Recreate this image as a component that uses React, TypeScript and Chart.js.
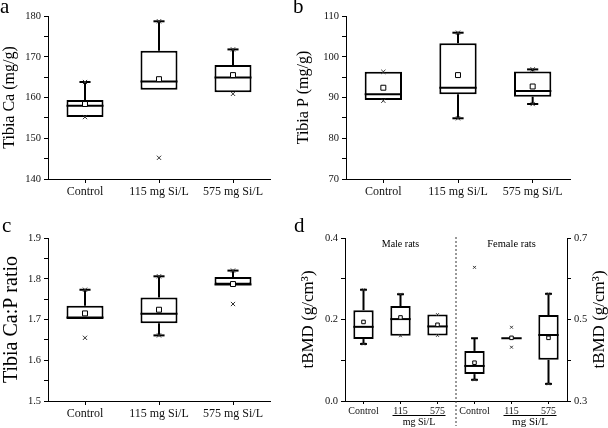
import React, { useEffect, useRef } from 'react';
import { Chart, registerables } from 'chart.js';

Chart.register(...registerables);

const SERIF = '"Liberation Serif", "Times New Roman", Times, serif';
Chart.defaults.font.family = SERIF;

// ---------- Data ----------
const groups = ['Control', '115 mg Si/L', '575 mg Si/L'];

// Panel a: Tibia Ca (mg/g)
const caQ1 = [155.2, 161.9, 161.3];
const caQ3 = [159.4, 171.5, 168.0];
const caMedian = [158.0, 163.9, 164.9];
const caMean = [158.4, 164.5, 165.5];
const caWhiskerLo = [155.2, 161.9, 161.3];
const caWhiskerHi = [163.8, 178.7, 171.8];
const caMin = [155.2, 145.2, 160.9];
const caMax = [163.8, 178.7, 171.8];

// Panel b: Tibia P (mg/g)
const pQ1 = [89.4, 90.8, 90.2];
const pQ3 = [96.3, 103.3, 96.4];
const pMedian = [90.8, 92.4, 91.6];
const pMean = [92.4, 95.5, 92.7];
const pWhiskerLo = [89.4, 84.9, 88.4];
const pWhiskerHi = [96.3, 105.9, 96.9];
const pMin = [89.2, 84.9, 88.4];
const pMax = [96.3, 105.9, 96.9];

// Panel c: Tibia Ca:P ratio
const ratioQ1 = [1.701, 1.691, 1.786];
const ratioQ3 = [1.734, 1.754, 1.804];
const ratioMedian = [1.705, 1.714, 1.786];
const ratioMean = [1.715, 1.724, 1.787];
const ratioWhiskerLo = [1.701, 1.661, 1.786];
const ratioWhiskerHi = [1.773, 1.806, 1.82];
const ratioMin = [1.655, 1.661, 1.738];
const ratioMax = [1.773, 1.806, 1.82];

// Panel d: tBMD (g/cm3)
const bmdLabels = ['Control', '115', '575', 'Control', '115', '575'];
const maleQ1 = [0.152, 0.16, 0.161];
const maleQ3 = [0.223, 0.233, 0.212];
const maleMedian = [0.182, 0.201, 0.183];
const maleMean = [0.194, 0.205, 0.187];
const maleWhiskerLo = [0.14, 0.16, 0.161];
const maleWhiskerHi = [0.273, 0.262, 0.212];
const maleMin = [0.14, 0.16, 0.161];
const maleMax = [0.273, 0.262, 0.212];

const femaleQ1 = [0.366, 0.454, 0.401];
const femaleQ3 = [0.423, 0.454, 0.511];
const femaleMedian = [0.386, 0.454, 0.462];
const femaleMean = [0.394, 0.455, 0.455];
const femaleWhiskerLo = [0.352, 0.454, 0.342];
const femaleWhiskerHi = [0.454, 0.454, 0.563];
const femaleMin = [0.352, 0.432, 0.342];
const femaleMax = [0.628, 0.481, 0.563];

// ---------- helpers ----------
type Arr = (number | null)[];
const padAfter = (a: number[]): Arr => [...a, null, null, null];
const padBefore = (a: number[]): Arr => [null, null, null, ...a];

function boxDatasets(
  q1: Arr, q3: Arr, median: Arr, mean: Arr, wLo: Arr, wHi: Arr, lo: Arr, hi: Arr,
  yAxisID: string, barPct: number, meanR: number, crossR: number, capRatio: number
) {
  return [
    {
      type: 'line', data: mean, yAxisID, showLine: false, order: 1,
      pointStyle: 'rect', pointRadius: meanR, pointBackgroundColor: '#fff',
      pointBorderColor: '#000', pointBorderWidth: 1,
    },
    {
      type: 'line', data: lo, yAxisID, showLine: false, order: 1,
      pointStyle: 'crossRot', pointRadius: crossR, pointBorderColor: '#333', pointBorderWidth: 1,
    },
    {
      type: 'line', data: hi, yAxisID, showLine: false, order: 1,
      pointStyle: 'crossRot', pointRadius: crossR, pointBorderColor: '#333', pointBorderWidth: 1,
    },
    {
      type: 'bar', yAxisID, order: 2,
      data: q1.map((v, i) => (v == null || q3[i] == null ? null : [v, q3[i] as number])),
      backgroundColor: '#fff', borderColor: '#000', borderWidth: 2, borderSkipped: false,
      barPercentage: barPct, categoryPercentage: 1, grouped: false,
      box: { q1, q3, median, wLo, wHi, capRatio },
    },
  ];
}

const boxPlugin = {
  id: 'boxWhiskers',
  afterDatasetDraw(chart: any, args: any) {
    const ds = chart.data.datasets[args.index];
    if (!ds || !ds.box) return;
    const meta = args.meta;
    const ys = meta.yScale;
    const ctx = chart.ctx;
    const { q1, q3, median, wLo, wHi, capRatio } = ds.box;
    ctx.save();
    ctx.strokeStyle = '#000';
    ctx.lineWidth = 2;
    const seg = (x1: number, y1: number, x2: number, y2: number) => {
      ctx.beginPath(); ctx.moveTo(x1, y1); ctx.lineTo(x2, y2); ctx.stroke();
    };
    meta.data.forEach((el: any, i: number) => {
      if (q1[i] == null) return;
      const { x, width } = el.getProps(['x', 'width'], true);
      const half = width / 2;
      const cap = width * capRatio;
      const yMed = ys.getPixelForValue(median[i]);
      seg(x - half, yMed, x + half, yMed);
      const yQ3 = ys.getPixelForValue(q3[i]);
      const yQ1 = ys.getPixelForValue(q1[i]);
      if (wHi[i] > q3[i]) {
        const yH = ys.getPixelForValue(wHi[i]);
        seg(x, yQ3, x, yH);
        seg(x - cap, yH, x + cap, yH);
      }
      if (wLo[i] < q1[i]) {
        const yL = ys.getPixelForValue(wLo[i]);
        seg(x, yQ1, x, yL);
        seg(x - cap, yL, x + cap, yL);
      }
    });
    ctx.restore();
  },
};

function yTicks(min: number, minor: number, major: number, dec: number, size: number) {
  const ratio = Math.round(major / minor);
  const base = Math.round(min / minor);
  return {
    stepSize: minor, autoSkip: false, color: '#111', padding: 3,
    font: { family: SERIF, size },
    callback: (v: any) => {
      const k = Math.round(Number(v) / minor) - base;
      return k % ratio === 0 ? Number(v).toFixed(dec) : '';
    },
  };
}

const axisGrid = (len: number) => ({
  drawOnChartArea: false, drawTicks: true, tickLength: len, color: '#000', offset: false,
});
const axisBorder = { display: true, color: '#000', width: 1 };

type Deco = {
  title: string; titleSize: number; titleX: number;
  letter: string; letterX: number; letterY: number;
};

function decoPlugin(d: Deco, extra?: (chart: any) => void) {
  return {
    id: 'deco',
    afterDraw(chart: any) {
      const ctx = chart.ctx;
      const ca = chart.chartArea;
      ctx.save();
      ctx.fillStyle = '#000';
      ctx.font = `${d.titleSize}px ${SERIF}`;
      ctx.textAlign = 'center';
      ctx.textBaseline = 'middle';
      ctx.translate(d.titleX, (ca.top + ca.bottom) / 2);
      ctx.rotate(-Math.PI / 2);
      ctx.fillText(d.title, 0, 0);
      ctx.restore();
      ctx.save();
      ctx.fillStyle = '#000';
      ctx.font = `21px ${SERIF}`;
      ctx.textAlign = 'left';
      ctx.textBaseline = 'alphabetic';
      ctx.fillText(d.letter, d.letterX, d.letterY);
      ctx.restore();
      if (extra) extra(chart);
    },
  };
}

type Layout = { yWidth: number; xHeight: number; top: number; right: number };

function simpleConfig(
  q1: number[], q3: number[], median: number[], mean: number[], wLo: number[], wHi: number[],
  lo: number[], hi: number[], yMin: number, yMax: number, minor: number, major: number, dec: number,
  lay: Layout, deco: Deco
): any {
  return {
    type: 'bar',
    data: {
      labels: groups,
      datasets: boxDatasets(q1, q3, median, mean, wLo, wHi, lo, hi, 'y', 0.5, 3.5, 3, 0.15),
    },
    options: {
      responsive: false, animation: false, events: [],
      layout: { autoPadding: false, padding: { left: 0, top: lay.top, right: lay.right, bottom: 0 } },
      plugins: { legend: { display: false }, tooltip: { enabled: false } },
      scales: {
        x: {
          type: 'category', offset: true,
          grid: axisGrid(4), border: axisBorder,
          ticks: { color: '#111', padding: 2, maxRotation: 0, autoSkip: false, font: { family: SERIF, size: 12 } },
          afterFit: (s: any) => { s.height = lay.xHeight; },
        },
        y: {
          type: 'linear', min: yMin, max: yMax,
          grid: axisGrid(4), border: axisBorder,
          ticks: yTicks(yMin, minor, major, dec, 10.5),
          afterFit: (s: any) => { s.width = lay.yWidth; },
        },
      },
    },
    plugins: [boxPlugin, decoPlugin(deco)],
  };
}

function bmdConfig(): any {
  const lay = { yWidth: 55, y2Width: 41, xHeight: 27, top: 28 };
  const extra = (chart: any) => {
    const ctx = chart.ctx;
    const xs = chart.scales.x;
    const ca = chart.chartArea;
    ctx.save();
    // divider
    const xm = (xs.getPixelForValue(2) + xs.getPixelForValue(3)) / 2;
    ctx.strokeStyle = '#333';
    ctx.lineWidth = 1;
    ctx.setLineDash([2, 2]);
    ctx.beginPath(); ctx.moveTo(xm, ca.top - 1); ctx.lineTo(xm, 216); ctx.stroke();
    ctx.setLineDash([]);
    ctx.fillStyle = '#000';
    ctx.textAlign = 'center';
    ctx.textBaseline = 'middle';
    ctx.font = `10px ${SERIF}`;
    ctx.fillText('Male rats', xs.getPixelForValue(1), ca.top + 6);
    ctx.font = `10.5px ${SERIF}`;
    ctx.fillText('Female rats', xs.getPixelForValue(4), ca.top + 6);
    // dose underline + unit
    const groupsIdx = [[1, 2, 10], [4, 5, 11]];
    groupsIdx.forEach(([a, b, fs]) => {
      const xa = xs.getPixelForValue(a) - 8;
      const xb = xs.getPixelForValue(b) + 8;
      ctx.strokeStyle = '#000';
      ctx.lineWidth = 1;
      ctx.beginPath(); ctx.moveTo(xa, 205.5); ctx.lineTo(xb, 205.5); ctx.stroke();
      ctx.font = `${fs}px ${SERIF}`;
      ctx.fillText('mg Si/L', (xa + xb) / 2, 212.5);
    });
    // right title
    ctx.font = `17px ${SERIF}`;
    ctx.translate(310, (ca.top + ca.bottom) / 2);
    ctx.rotate(-Math.PI / 2);
    ctx.fillText('tBMD (g/cm\u00B3)', 0, 0);
    ctx.restore();
  };
  return {
    type: 'bar',
    data: {
      labels: bmdLabels,
      datasets: [
        ...boxDatasets(
          padAfter(maleQ1), padAfter(maleQ3), padAfter(maleMedian), padAfter(maleMean),
          padAfter(maleWhiskerLo), padAfter(maleWhiskerHi), padAfter(maleMin), padAfter(maleMax),
          'y', 0.55, 2.5, 2, 0.17
        ),
        ...boxDatasets(
          padBefore(femaleQ1), padBefore(femaleQ3), padBefore(femaleMedian), padBefore(femaleMean),
          padBefore(femaleWhiskerLo), padBefore(femaleWhiskerHi), padBefore(femaleMin), padBefore(femaleMax),
          'y2', 0.55, 2.5, 2, 0.17
        ),
      ],
    },
    options: {
      responsive: false, animation: false, events: [],
      layout: { autoPadding: false, padding: { left: 0, top: lay.top, right: 0, bottom: 0 } },
      plugins: { legend: { display: false }, tooltip: { enabled: false } },
      scales: {
        x: {
          type: 'category', offset: true,
          grid: axisGrid(3), border: axisBorder,
          ticks: { color: '#111', padding: 1, maxRotation: 0, autoSkip: false, font: { family: SERIF, size: 10 } },
          afterFit: (s: any) => { s.height = lay.xHeight; },
        },
        y: {
          type: 'linear', position: 'left', min: 0, max: 0.4,
          grid: axisGrid(4), border: axisBorder,
          ticks: yTicks(0, 0.1, 0.2, 1, 10.5),
          afterFit: (s: any) => { s.width = lay.yWidth; },
        },
        y2: {
          type: 'linear', position: 'right', min: 0.3, max: 0.7,
          grid: axisGrid(4), border: axisBorder,
          ticks: yTicks(0.3, 0.1, 0.2, 1, 10.5),
          afterFit: (s: any) => { s.width = lay.y2Width; },
        },
      },
    },
    plugins: [
      boxPlugin,
      decoPlugin(
        { title: 'tBMD (g/cm\u00B3)', titleSize: 17, titleX: 19, letter: 'd', letterX: 4, letterY: 22 },
        extra
      ),
    ],
  };
}

function ChartPanel(props: { left: number; top: number; width: number; height: number; build: () => any }) {
  const ref = useRef<HTMLCanvasElement | null>(null);
  useEffect(() => {
    if (!ref.current) return;
    const chart = new Chart(ref.current, props.build());
    return () => chart.destroy();
  }, []);
  return (
    <canvas
      ref={ref}
      width={props.width}
      height={props.height}
      style={{ position: 'absolute', left: props.left, top: props.top, width: props.width, height: props.height }}
    />
  );
}

export default function App() {
  return (
    <div style={{ position: 'fixed', left: 0, top: 0, width: 608, height: 428, background: '#fff', overflow: 'hidden' }}>
      <ChartPanel
        left={0} top={0} width={300} height={210}
        build={() => simpleConfig(caQ1, caQ3, caMedian, caMean, caWhiskerLo, caWhiskerHi, caMin, caMax,
          140, 180, 5, 10, 0, { yWidth: 48, xHeight: 31, top: 16, right: 30 },
          { title: 'Tibia Ca (mg/g)', titleSize: 16, titleX: 10, letter: 'a', letterX: 0, letterY: 13 })}
      />
      <ChartPanel
        left={290} top={0} width={318} height={210}
        build={() => simpleConfig(pQ1, pQ3, pMedian, pMean, pWhiskerLo, pWhiskerHi, pMin, pMax,
          70, 110, 5, 10, 0, { yWidth: 56, xHeight: 31, top: 16, right: 38 },
          { title: 'Tibia P (mg/g)', titleSize: 16, titleX: 14, letter: 'b', letterX: 3, letterY: 13 })}
      />
      <ChartPanel
        left={0} top={210} width={300} height={218}
        build={() => simpleConfig(ratioQ1, ratioQ3, ratioMedian, ratioMean, ratioWhiskerLo, ratioWhiskerHi, ratioMin, ratioMax,
          1.5, 1.9, 0.05, 0.1, 1, { yWidth: 48, xHeight: 27, top: 28, right: 30 },
          { title: 'Tibia Ca:P ratio', titleSize: 20, titleX: 12, letter: 'c', letterX: 2, letterY: 22 })}
      />
      <ChartPanel left={290} top={210} width={318} height={218} build={bmdConfig} />
    </div>
  );
}
